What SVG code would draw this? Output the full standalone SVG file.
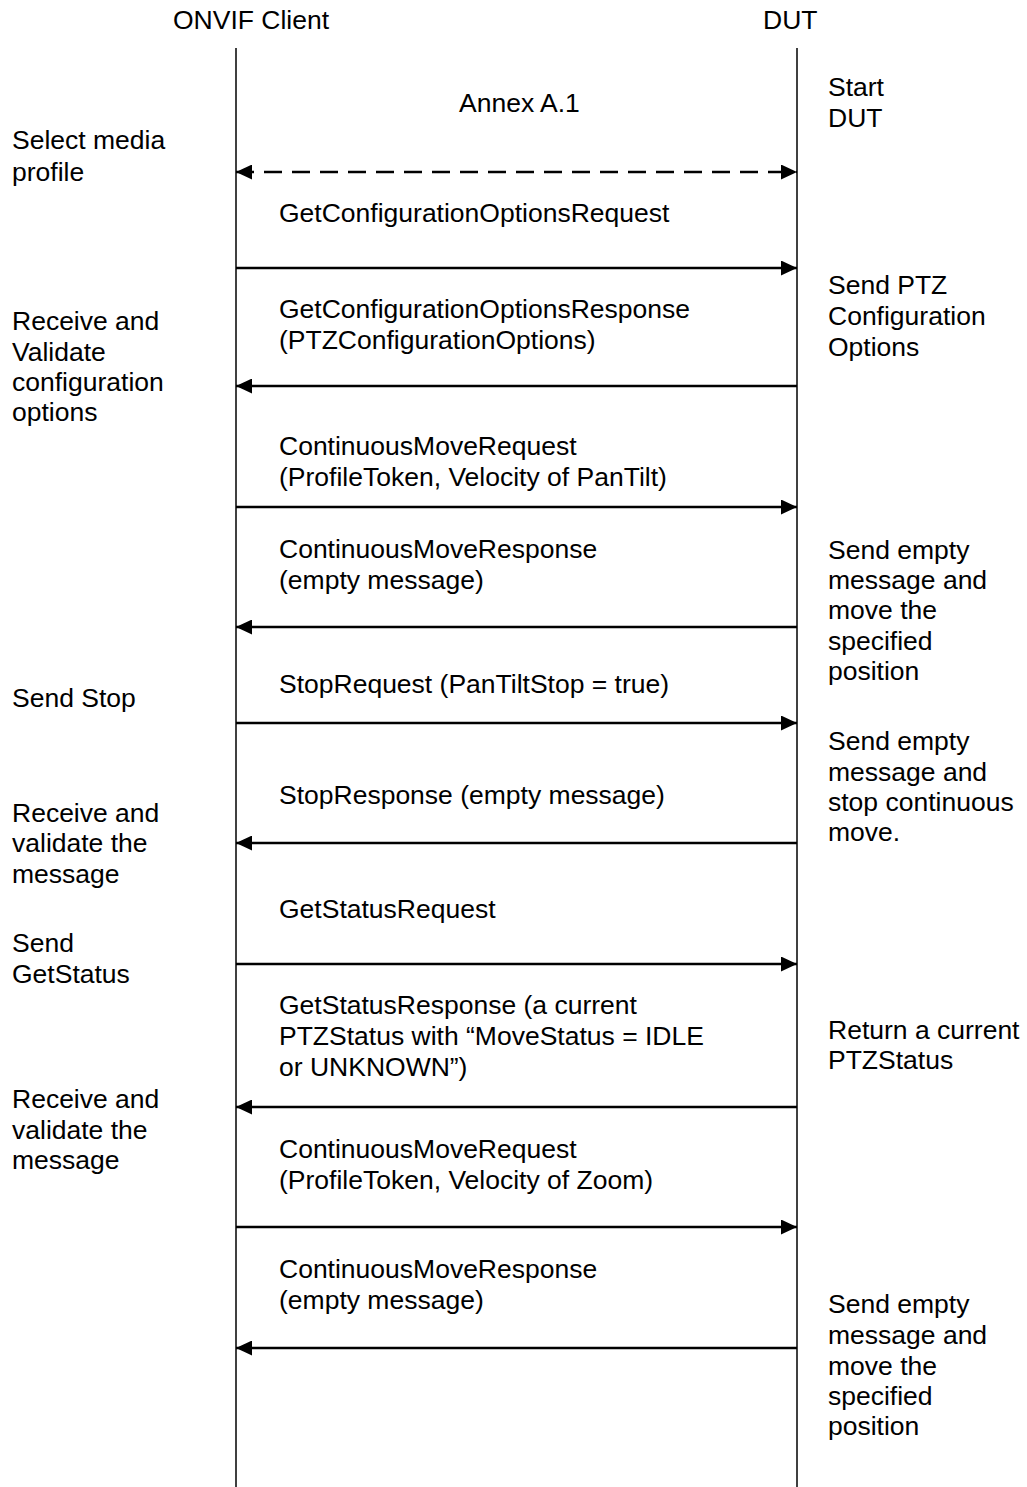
<svg xmlns="http://www.w3.org/2000/svg" width="1027" height="1487" viewBox="0 0 1027 1487">
<style>
text{font-family:"Liberation Sans",Arial,sans-serif;font-size:26.5px;fill:#000}
.life{stroke:#000;stroke-width:1.5;fill:none}
.msg{stroke:#000;stroke-width:2.3;fill:none}
.dash{stroke:#000;stroke-width:2.3;fill:none;stroke-dasharray:18 10}
</style>
<defs>
<marker id="ah" viewBox="0 0 16 15" refX="16" refY="7.5" markerWidth="16" markerHeight="15" markerUnits="userSpaceOnUse" orient="auto-start-reverse">
<path d="M0,0 L16,7.5 L0,15 Z" fill="#000"/>
</marker>
</defs>
<g id="client">
<text x="173" y="29">ONVIF Client</text>
<line class="life" x1="236" y1="48" x2="236" y2="1487"/>
</g>
<g id="dut">
<text x="763" y="29">DUT</text>
<line class="life" x1="797" y1="48" x2="797" y2="1487"/>
</g>
<g id="connectors">
<line class="dash" x1="236" y1="172" x2="797" y2="172" marker-start="url(#ah)" marker-end="url(#ah)"/>
<line class="msg" x1="236" y1="268" x2="797" y2="268" marker-end="url(#ah)"/>
<line class="msg" x1="797" y1="386" x2="236" y2="386" marker-end="url(#ah)"/>
<line class="msg" x1="236" y1="507" x2="797" y2="507" marker-end="url(#ah)"/>
<line class="msg" x1="797" y1="627" x2="236" y2="627" marker-end="url(#ah)"/>
<line class="msg" x1="236" y1="723" x2="797" y2="723" marker-end="url(#ah)"/>
<line class="msg" x1="797" y1="843" x2="236" y2="843" marker-end="url(#ah)"/>
<line class="msg" x1="236" y1="964" x2="797" y2="964" marker-end="url(#ah)"/>
<line class="msg" x1="797" y1="1107" x2="236" y2="1107" marker-end="url(#ah)"/>
<line class="msg" x1="236" y1="1227" x2="797" y2="1227" marker-end="url(#ah)"/>
<line class="msg" x1="797" y1="1348" x2="236" y2="1348" marker-end="url(#ah)"/>
</g>
<g id="message-labels">
<text x="459" y="112">Annex A.1</text>
<text x="279" y="222">GetConfigurationOptionsRequest</text>
<text x="279" y="318">GetConfigurationOptionsResponse</text>
<text x="279" y="349">(PTZConfigurationOptions)</text>
<text x="279" y="455">ContinuousMoveRequest</text>
<text x="279" y="486">(ProfileToken, Velocity of PanTilt)</text>
<text x="279" y="558">ContinuousMoveResponse</text>
<text x="279" y="589">(empty message)</text>
<text x="279" y="693">StopRequest (PanTiltStop = true)</text>
<text x="279" y="804">StopResponse (empty message)</text>
<text x="279" y="918">GetStatusRequest</text>
<text x="279" y="1014">GetStatusResponse (a current</text>
<text x="279" y="1045">PTZStatus with “MoveStatus = IDLE</text>
<text x="279" y="1076">or UNKNOWN”)</text>
<text x="279" y="1158">ContinuousMoveRequest</text>
<text x="279" y="1189">(ProfileToken, Velocity of Zoom)</text>
<text x="279" y="1278">ContinuousMoveResponse</text>
<text x="279" y="1309">(empty message)</text>
</g>
<g id="client-notes">
<text x="12" y="149">Select media</text>
<text x="12" y="181">profile</text>
<text x="12" y="330">Receive and</text>
<text x="12" y="361">Validate</text>
<text x="12" y="391">configuration</text>
<text x="12" y="421">options</text>
<text x="12" y="707">Send Stop</text>
<text x="12" y="822">Receive and</text>
<text x="12" y="852">validate the</text>
<text x="12" y="883">message</text>
<text x="12" y="952">Send</text>
<text x="12" y="983">GetStatus</text>
<text x="12" y="1108">Receive and</text>
<text x="12" y="1139">validate the</text>
<text x="12" y="1169">message</text>
</g>
<g id="dut-notes">
<text x="828" y="96">Start</text>
<text x="828" y="127">DUT</text>
<text x="828" y="294">Send PTZ</text>
<text x="828" y="325">Configuration</text>
<text x="828" y="356">Options</text>
<text x="828" y="559">Send empty</text>
<text x="828" y="589">message and</text>
<text x="828" y="619">move the</text>
<text x="828" y="650">specified</text>
<text x="828" y="680">position</text>
<text x="828" y="750">Send empty</text>
<text x="828" y="781">message and</text>
<text x="828" y="811">stop continuous</text>
<text x="828" y="841">move.</text>
<text x="828" y="1039">Return a current</text>
<text x="828" y="1069">PTZStatus</text>
<text x="828" y="1313">Send empty</text>
<text x="828" y="1344">message and</text>
<text x="828" y="1375">move the</text>
<text x="828" y="1405">specified</text>
<text x="828" y="1435">position</text>
</g>
</svg>
